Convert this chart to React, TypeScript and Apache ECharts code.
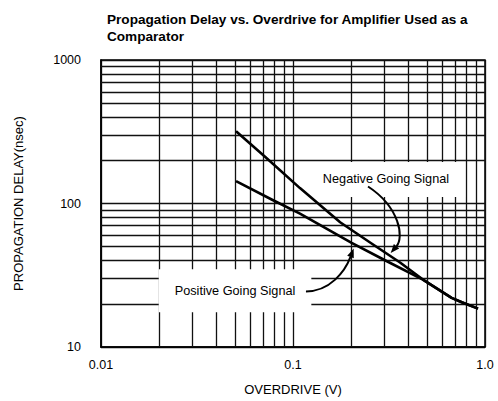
import React, { useEffect, useRef } from 'react';
import * as echarts from 'echarts';

// Minor grid lines (log decades 2..9)
const xMinorGrid = [0.02, 0.03, 0.04, 0.05, 0.06, 0.07, 0.08, 0.09, 0.2, 0.3, 0.4, 0.5, 0.6, 0.7, 0.8, 0.9];
const yMinorGrid = [20, 30, 40, 50, 60, 70, 80, 90, 200, 300, 400, 500, 600, 700, 800, 900];

// Curves (OVERDRIVE V, PROPAGATION DELAY nsec)
const negativeX = [0.0505, 0.0715, 0.1087, 0.176, 0.252, 0.361, 0.475, 0.67, 0.757, 0.92];
const negativeY = [319, 212, 128, 74, 53.5, 38.8, 29.5, 22.0, 20.5, 18.5];
const positiveX = [0.0505, 0.0774, 0.1087, 0.202, 0.296, 0.475, 0.67, 0.757, 0.92];
const positiveY = [143, 106.6, 85, 53.2, 40.7, 29.5, 22.0, 20.5, 18.5];

const titleText = 'Propagation Delay vs. Overdrive for Amplifier Used as a\nComparator';
const negLabel = 'Negative Going Signal';
const posLabel = 'Positive Going Signal';

const FONT = '"Liberation Sans", Arial, sans-serif';

export default function App() {
  const ref = useRef<HTMLDivElement>(null);
  useEffect(() => {
    if (!ref.current) return;
    const chart = echarts.init(ref.current, undefined, { renderer: 'svg' });
    const gridStyle = { color: '#111', width: 1.3, type: 'solid' as const };
    chart.setOption({
      animation: false,
      backgroundColor: '#fff',
      title: {
        text: titleText,
        left: 102,
        top: 6,
        textStyle: { fontFamily: FONT, fontWeight: 'bold', fontSize: 13.6, lineHeight: 17, color: '#000' },
      },
      grid: { left: 101, right: 13, top: 60, bottom: 54, show: true, borderColor: '#000', borderWidth: 1.5 },
      xAxis: {
        type: 'log',
        logBase: 10,
        min: 0.01,
        max: 1,
        name: 'OVERDRIVE (V)',
        nameLocation: 'middle',
        nameGap: 36,
        nameTextStyle: { fontFamily: FONT, fontSize: 13, color: '#000' },
        axisLine: { show: true, lineStyle: { color: '#000', width: 1.5 } },
        axisTick: { show: false },
        axisLabel: {
          fontFamily: FONT,
          fontSize: 12.5,
          color: '#000',
          margin: 11,
          formatter: (v: number) => (v === 1 ? '1.0' : String(v)),
        },
        splitLine: { show: true, lineStyle: gridStyle },
        minorTick: { show: false },
      },
      yAxis: {
        type: 'log',
        logBase: 10,
        min: 10,
        max: 1000,
        name: 'PROPAGATION DELAY(nsec)',
        nameLocation: 'middle',
        nameGap: 76,
        nameTextStyle: { fontFamily: FONT, fontSize: 13, color: '#000' },
        axisLine: { show: true, lineStyle: { color: '#000', width: 1.5 } },
        axisTick: { show: false },
        axisLabel: {
          fontFamily: FONT,
          fontSize: 12.5,
          color: '#000',
          margin: 20,
          formatter: (v: number) => String(v),
        },
        splitLine: { show: true, lineStyle: gridStyle },
      },
      series: [
        {
          name: 'grid',
          type: 'line',
          data: [],
          z: 1,
          silent: true,
          markLine: {
            silent: true,
            symbol: 'none',
            label: { show: false },
            lineStyle: gridStyle,
            data: [
              ...xMinorGrid.map((v) => ({ xAxis: v })),
              ...yMinorGrid.map((v) => ({ yAxis: v })),
            ],
          },
        },
        {
          name: negLabel,
          type: 'line',
          z: 150,
          showSymbol: false,
          smooth: false,
          lineStyle: { color: '#000', width: 2.6, join: 'round' },
          data: negativeX.map((x, i) => [x, negativeY[i]]),
        },
        {
          name: posLabel,
          type: 'line',
          z: 150,
          showSymbol: false,
          smooth: false,
          lineStyle: { color: '#000', width: 2.6, join: 'round' },
          data: positiveX.map((x, i) => [x, positiveY[i]]),
        },
      ],
    });

    const px = (p: number[]) => chart.convertToPixel({ gridIndex: 0 }, p) as number[];
    const arrow = (pts: number[][]) => {
      const [p0, p1, p2, p3] = pts.map(px);
      const dx = p3[0] - p2[0];
      const dy = p3[1] - p2[1];
      const len = Math.hypot(dx, dy) || 1;
      const ux = dx / len, uy = dy / len;
      const L = 9, W = 3.5;
      const tip = [p3[0] + ux * 2, p3[1] + uy * 2];
      const base = [tip[0] - ux * L, tip[1] - uy * L];
      return [
        {
          type: 'bezierCurve',
          z: 160,
          shape: { x1: p0[0], y1: p0[1], cpx1: p1[0], cpy1: p1[1], cpx2: p2[0], cpy2: p2[1], x2: base[0], y2: base[1] },
          style: { stroke: '#000', lineWidth: 2, fill: 'none' },
        },
        {
          type: 'polygon',
          z: 160,
          shape: {
            points: [tip, [base[0] - uy * W, base[1] + ux * W], [base[0] + uy * W, base[1] - ux * W]],
          },
          style: { fill: '#000' },
        },
      ];
    };
    const label = (text: string, at: number[], padding: number[]) => {
      const p = px(at);
      return {
        type: 'text',
        z: 110,
        x: p[0],
        y: p[1],
        style: {
          text,
          align: 'center',
          verticalAlign: 'middle',
          fontFamily: FONT,
          fontSize: 12.7,
          fill: '#000',
          backgroundColor: '#fff',
          padding,
        },
      };
    };
    chart.setOption({
      graphic: [
        label(negLabel, [0.305, 147], [11, 16, 11, 16]),
        label(posLabel, [0.0499, 24.7], [15, 16, 15, 16]),
        ...arrow([[0.2459, 131.4], [0.3608, 93.8], [0.3785, 58.0], [0.3277, 46.3]]),
        ...arrow([[0.1168, 24.4], [0.1558, 24.4], [0.1866, 33.6], [0.2053, 47.1]]),
      ],
    });
    return () => chart.dispose();
  }, []);
  return <div ref={ref} style={{ position: 'absolute', left: 0, top: 0, width: 498, height: 401 }} />;
}
